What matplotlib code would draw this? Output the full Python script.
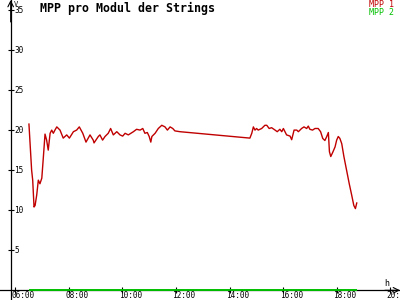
"""
MPP pro Modul der Strings - daily voltage curve.
"""
import matplotlib
matplotlib.use("Agg")
import matplotlib.pyplot as plt
import matplotlib.transforms as mtransforms

# decimal hours and voltage per module for MPP 1
mpp1_time = [6.51, 6.61, 6.65, 6.70, 6.74, 6.80, 6.86, 6.92, 6.99, 7.05, 7.11, 7.17,
             7.23, 7.30, 7.36, 7.42, 7.48, 7.55, 7.67, 7.79, 7.92, 8.02, 8.17, 8.29,
             8.39, 8.52, 8.64, 8.79, 8.91, 8.94, 9.10, 9.16, 9.26, 9.35, 9.47, 9.56,
             9.66, 9.79, 9.91, 10.01, 10.10, 10.22, 10.41, 10.53, 10.66, 10.76, 10.84,
             10.93, 11.00, 11.06, 11.10, 11.22, 11.34, 11.47, 11.59, 11.68, 11.78,
             11.88, 11.96, 12.15, 14.76, 14.83, 14.89, 14.95, 15.01, 15.07, 15.20,
             15.32, 15.39, 15.48, 15.57, 15.70, 15.78, 15.88, 15.95, 16.01, 16.13,
             16.26, 16.32, 16.41, 16.51, 16.57, 16.69, 16.78, 16.88, 16.94, 17.00,
             17.10, 17.19, 17.31, 17.40, 17.48, 17.56, 17.63, 17.69, 17.73, 17.78,
             17.85, 17.94, 18.00, 18.06, 18.12, 18.19, 18.27, 18.37, 18.47, 18.56,
             18.64, 18.70, 18.75]
mpp1_volt = [20.75, 15.0, 13.75, 10.4, 10.6, 11.9, 13.75, 13.3, 14.0, 16.7, 19.5, 18.75,
             17.5, 19.6, 20.0, 19.6, 20.0, 20.4, 20.0, 19.0, 19.4, 19.0, 19.8, 20.0,
             20.4, 19.6, 18.5, 19.4, 18.75, 18.4, 19.2, 19.4, 18.75, 19.2, 19.6, 20.2,
             19.4, 19.8, 19.4, 19.25, 19.6, 19.4, 19.8, 20.1, 20.0, 20.2, 19.6,
             19.7, 19.2, 18.5, 19.2, 19.6, 20.2, 20.6, 20.4, 20.0, 20.4,
             20.2, 19.9, 19.8, 19.0, 19.6, 20.4, 20.0, 20.2, 20.0, 20.2,
             20.6, 20.6, 20.2, 20.3, 20.0, 19.8, 20.1, 19.8, 20.2, 19.4,
             19.25, 18.8, 20.0, 20.0, 19.8, 20.2, 20.4, 20.2, 20.5, 20.1,
             20.0, 20.2, 20.2, 19.8, 18.96, 18.7, 19.2, 19.7, 17.3, 16.7,
             17.2, 17.9, 18.75, 19.2, 18.96, 18.3, 16.7, 15.0, 13.3, 11.9,
             10.6, 10.2, 10.9]

# MPP 2 stays at zero all day
mpp2_time = [6.51, 18.75]
mpp2_volt = [0, 0]

y_ticks = [5, 10, 15, 20, 25, 30, 35]
x_ticks = [6, 8, 10, 12, 14, 16, 18, 20]
x_labels = ["06:00", "08:00", "10:00", "12:00", "14:00", "16:00", "18:00", "20:00"]

RED = "#c00000"
GREEN = "#00c000"


def main():
    fig = plt.figure(figsize=(4, 3), dpi=100)
    ax = fig.add_axes([0, 0, 1, 1])
    ax.set_xlim(5.429, 20.365)
    ax.set_ylim(-1.21, 36.24)

    ax.plot(mpp2_time, mpp2_volt, color=GREEN, lw=1.4, solid_capstyle="butt", zorder=3)
    ax.plot(mpp1_time, mpp1_volt, color=RED, lw=1.0, zorder=4)

    # axes through the origin
    for s in ["top", "right"]:
        ax.spines[s].set_visible(False)
    ax.spines["left"].set_position(("data", 5.828))
    ax.spines["bottom"].set_position(("data", 0))
    ax.spines["left"].set_linewidth(0.9)
    ax.spines["bottom"].set_linewidth(0.9)
    ax.set_xticks(x_ticks)
    ax.set_yticks(y_ticks)
    ax.tick_params(direction="inout", length=4, width=0.8,
                   labelleft=False, labelbottom=False)

    # tick labels, drawn by hand to sit like the original
    mono = "DejaVu Sans Mono"
    off_y = mtransforms.offset_copy(ax.transData, fig=fig, x=2.5, y=-0.3, units="points")
    for v in y_ticks:
        ax.text(5.828, v, str(v), transform=off_y, fontsize=5.6, family=mono,
                ha="left", va="center")
    bottom = mtransforms.blended_transform_factory(ax.transData, ax.transAxes)
    off_x = mtransforms.offset_copy(bottom, fig=fig, x=-2.5, y=0, units="points")
    for h, lab in zip(x_ticks, x_labels):
        ax.text(h, 0, lab, transform=off_x, fontsize=5.6, family=mono,
                ha="left", va="bottom")

    # arrow heads
    ax.annotate("", xy=(5.828, 36.24), xytext=(5.828, 33.5),
                arrowprops=dict(arrowstyle="->", lw=0.8, color="black",
                                shrinkA=0, shrinkB=0))
    ax.annotate("", xy=(20.365, 0), xytext=(19.8, 0),
                arrowprops=dict(arrowstyle="->", lw=0.8, color="black",
                                shrinkA=0, shrinkB=0))

    # units
    fig.text(14 / 400, 1 - 1 / 300, "V", fontsize=5, family=mono, ha="left", va="top")
    fig.text(387 / 400, 1 - 283 / 300, "h", fontsize=6, family=mono, ha="center", va="center")

    # title and legend
    fig.text(40 / 400, 1 - 8 / 300, "MPP pro Modul der Strings", fontsize=8.4,
             family=mono, weight="bold", ha="left", va="center")
    fig.text(394 / 400, 1 - 4.5 / 300, "MPP 1", fontsize=6, family=mono,
             color=RED, ha="right", va="center")
    fig.text(394 / 400, 1 - 12.5 / 300, "MPP 2", fontsize=6, family=mono,
             color=GREEN, ha="right", va="center")

    fig.savefig("out.png", dpi=100)


if __name__ == "__main__":
    main()
